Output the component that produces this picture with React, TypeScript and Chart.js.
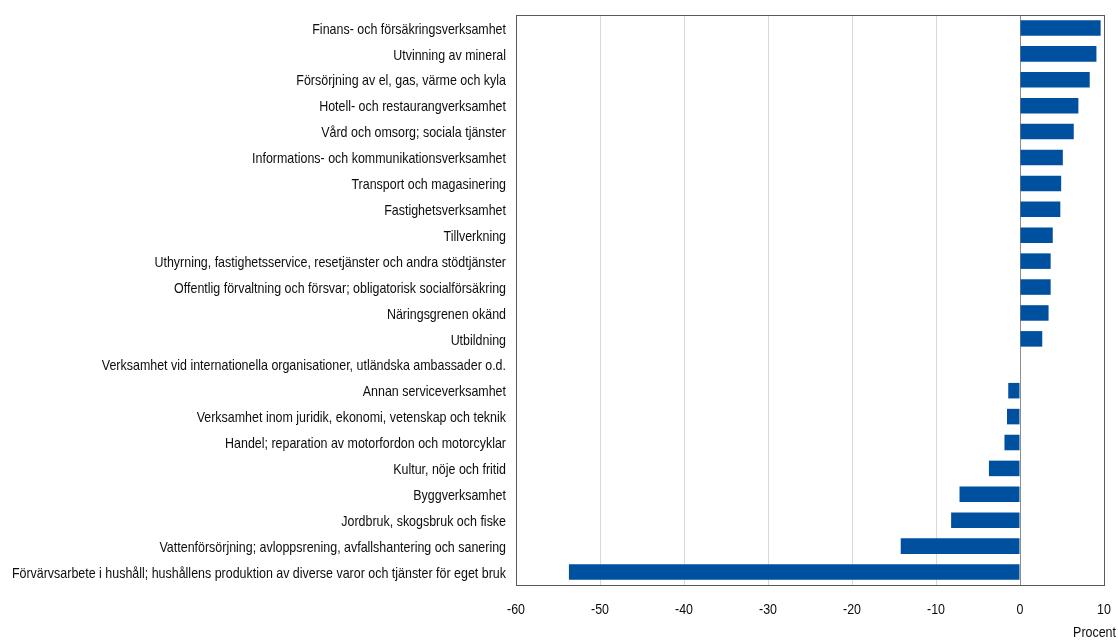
import React, { useEffect, useRef } from "react";
import { Chart, registerables } from "chart.js";

Chart.register(...registerables);

const categories: string[] = [
  "Finans- och försäkringsverksamhet",
  "Utvinning av mineral",
  "Försörjning av el, gas, värme och kyla",
  "Hotell- och restaurangverksamhet",
  "Vård och omsorg; sociala tjänster",
  "Informations- och kommunikationsverksamhet",
  "Transport och magasinering",
  "Fastighetsverksamhet",
  "Tillverkning",
  "Uthyrning, fastighetsservice, resetjänster och andra stödtjänster",
  "Offentlig förvaltning och försvar; obligatorisk socialförsäkring",
  "Näringsgrenen okänd",
  "Utbildning",
  "Verksamhet vid internationella organisationer, utländska ambassader o.d.",
  "Annan serviceverksamhet",
  "Verksamhet inom juridik, ekonomi, vetenskap och teknik",
  "Handel; reparation av motorfordon och motorcyklar",
  "Kultur, nöje och fritid",
  "Byggverksamhet",
  "Jordbruk, skogsbruk och fiske",
  "Vattenförsörjning; avloppsrening, avfallshantering och sanering",
  "Förvärvsarbete i hushåll; hushållens produktion av diverse varor och tjänster för eget bruk",
];

const values: number[] = [
  9.6, 9.1, 8.3, 6.95, 6.4, 5.1, 4.9, 4.8, 3.9, 3.65, 3.65, 3.4, 2.65, 0,
  -1.4, -1.55, -1.85, -3.7, -7.2, -8.2, -14.2, -53.7,
];

const xMin = -60;
const xMax = 10;
const xStep = 10;
const axisTitle = "Procent";

const FONT = "'Liberation Sans', Arial, sans-serif";
const TEXT = "#0d0d0d";
const NARROW = 0.83;

function narrowText(ctx: CanvasRenderingContext2D, text: string, x: number, y: number, align: CanvasTextAlign) {
  ctx.save();
  ctx.translate(x, y);
  ctx.scale(NARROW, 1);
  ctx.textAlign = align;
  ctx.fillText(text, 0, 0);
  ctx.restore();
}

export default function App() {
  const ref = useRef<HTMLCanvasElement | null>(null);

  useEffect(() => {
    if (!ref.current) return;
    const framePlugin = {
      id: "frame",
      afterDraw(chart: any) {
        const { ctx, chartArea } = chart;
        ctx.save();
        ctx.strokeStyle = "#595959";
        ctx.lineWidth = 1;
        ctx.strokeRect(
          Math.round(chartArea.left) + 0.5,
          Math.round(chartArea.top) + 0.5,
          Math.round(chartArea.right - chartArea.left),
          Math.round(chartArea.bottom - chartArea.top)
        );
        ctx.fillStyle = TEXT;
        ctx.font = "15px " + FONT;
        ctx.textBaseline = "middle";
        const ys = chart.scales.y;
        const labels = chart.data.labels as string[];
        labels.forEach((lab, i) => {
          narrowText(ctx, lab, chartArea.left - 10, ys.getPixelForTick(i) + 1.5, "right");
        });
        ctx.textBaseline = "alphabetic";
        const xs = chart.scales.x;
        xs.ticks.forEach((t: any) => {
          narrowText(ctx, String(t.value), xs.getPixelForValue(t.value), 614, "center");
        });
        narrowText(ctx, axisTitle, 1116, 637, "right");
        ctx.restore();
      },
    };

    const chart = new Chart(ref.current, {
      type: "bar",
      data: {
        labels: categories,
        datasets: [
          {
            data: values,
            backgroundColor: "#0050a0",
            borderWidth: 0,
            barPercentage: 0.6,
            categoryPercentage: 1,
          },
        ],
      },
      options: {
        indexAxis: "y",
        animation: false,
        responsive: false,
        maintainAspectRatio: false,
        layout: { padding: { top: 15, right: 14, left: 0, bottom: 0 } },
        plugins: {
          legend: { display: false },
          tooltip: { enabled: false },
        },
        scales: {
          x: {
            min: xMin,
            max: xMax,
            ticks: { stepSize: xStep, display: false },
            grid: {
              drawTicks: false,
              color: (c: any) => (c.tick && c.tick.value === 0 ? "#8c8c8c" : "#d9d9d9"),
              lineWidth: 1,
            },
            border: { display: false },
            afterFit: (s: any) => {
              s.height = 56;
            },
          },
          y: {
            ticks: { display: false, autoSkip: false },
            grid: { display: false, drawTicks: false },
            border: { display: false },
            afterFit: (s: any) => {
              s.width = 516;
            },
          },
        },
      },
      plugins: [framePlugin],
    } as any);
    return () => chart.destroy();
  }, []);

  return (
    <div style={{ position: "absolute", left: 0, top: 0, width: 1118, height: 641, background: "#fff" }}>
      <canvas ref={ref} width={1118} height={641} style={{ display: "block" }} />
    </div>
  );
}
